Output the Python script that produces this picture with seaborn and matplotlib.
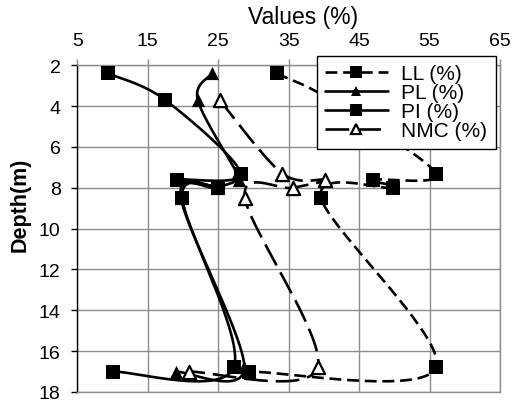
import numpy as np
import pandas as pd
import seaborn as sns
import matplotlib
matplotlib.use("Agg")
import matplotlib.pyplot as plt
from matplotlib.lines import Line2D

# ---- data ----
depth = [2.4, 3.7, 7.3, 7.6, 8.0, 8.5, 16.8, 17.0]
ll = [33.3, 41.0, 55.9, 47.0, 49.8, 39.6, 55.9, 29.4]
pl = [24.1, 22.1, 27.7, 27.9, 24.8, 19.7, 28.7, 19.0]
pi = [9.4, 17.5, 28.2, 19.1, 25.0, 19.9, 27.2, 10.1]
nmc_depth = [3.7, 7.3, 7.6, 8.0, 8.5, 16.8, 17.0]
nmc = [25.2, 34.1, 40.1, 35.6, 28.8, 39.1, 20.9]

x_ticks = [5, 15, 25, 35, 45, 55, 65]
y_ticks = [2, 4, 6, 8, 10, 12, 14, 16, 18]
labels = ["LL (%)", "PL (%)", "PI (%)", "NMC (%)"]


def smooth(xs, ys, n=40):
    """Excel-like smoothed line: Catmull-Rom Bezier through the points."""
    p = np.column_stack([xs, ys]).astype(float)
    m = len(p)
    out = []
    for i in range(m - 1):
        p0 = p[i - 1] if i > 0 else p[i]
        p1, p2 = p[i], p[i + 1]
        p3 = p[i + 2] if i + 2 < m else p[i + 1]
        c1 = p1 + (p2 - p0) / 6.0
        c2 = p2 - (p3 - p1) / 6.0
        t = np.linspace(0, 1, n)[:, None]
        seg = ((1 - t) ** 3) * p1 + 3 * ((1 - t) ** 2) * t * c1 + 3 * (1 - t) * t ** 2 * c2 + t ** 3 * p2
        out.append(seg if i == 0 else seg[1:])
    a = np.vstack(out)
    return pd.DataFrame({"x": a[:, 0], "y": a[:, 1]})


sns.set_style("white")
plt.rcParams["font.family"] = ["Liberation Sans", "DejaVu Sans"]
plt.rcParams["text.color"] = "black"
plt.rcParams["axes.labelcolor"] = "black"
plt.rcParams["xtick.color"] = "black"
plt.rcParams["ytick.color"] = "black"

fig = plt.figure(figsize=(5.22, 4.02), dpi=100)
ax = fig.add_axes([0.148, 0.0224, 0.81, 0.8126])

lw = 1.9
series = [
    (ll, depth, (0, (4.5, 2.2)), "s", "black"),
    (pl, depth, "-", "^", "black"),
    (pi, depth, "-", "s", "black"),
    (nmc, nmc_depth, (0, (9, 3)), "^", "white"),
]
handles = []
for (vals, dep, ls, mk, fc), lab in zip(series, labels):
    sm = smooth(vals, dep)
    sns.lineplot(data=sm, x="x", y="y", sort=False, estimator=None, ax=ax,
                 color="black", linewidth=lw, linestyle=ls, zorder=3)
    pts = pd.DataFrame({"x": vals, "y": dep})
    ms = 115 if mk == "s" else 90
    sns.scatterplot(data=pts, x="x", y="y", marker=mk, s=ms, color=fc,
                    edgecolor="black", linewidth=1.6 if fc == "white" else 0,
                    ax=ax, zorder=4)
    handles.append(Line2D([0], [0], color="black", linewidth=lw, linestyle=ls,
                          marker=mk, markersize=8 if mk == "s" else 7.5,
                          markerfacecolor=fc, markeredgecolor="black",
                          markeredgewidth=1.6 if fc == "white" else 0))

ax.set_xlim(5, 65)
ax.set_ylim(18, 2)
ax.set_xticks(x_ticks)
ax.set_yticks(y_ticks)
ax.xaxis.tick_top()
ax.xaxis.set_label_position("top")
ax.grid(True, color="#8c8c8c", linewidth=1.0)
ax.set_axisbelow(True)
for s in ["top", "right", "bottom"]:
    ax.spines[s].set_color("#8c8c8c")
    ax.spines[s].set_linewidth(1.0)
ax.spines["left"].set_color("black")
ax.spines["left"].set_linewidth(1.0)
ax.tick_params(axis="x", which="major", top=True, bottom=False, direction="out",
               length=4, width=1, color="#8c8c8c", labelsize=14, pad=8,
               labelcolor="black")
ax.tick_params(axis="y", which="major", left=True, direction="out",
               length=4, width=1, color="black", labelsize=14, pad=8,
               labelcolor="black")

ax.set_xlabel("Values (%)", fontsize=16.5, color="black")
ax.xaxis.set_label_coords(0.535, 1.15)
ax.xaxis.label.set_va("center")
ax.set_ylabel("Depth(m)", fontsize=15.5, fontweight="bold", color="black")
ax.yaxis.set_label_coords(-0.134, 0.575)
ax.yaxis.label.set_va("center")

leg = ax.legend(handles, labels, loc="upper left", bbox_to_anchor=(0.607, 0.858),
                bbox_transform=fig.transFigure, frameon=True, fancybox=False,
                framealpha=1, facecolor="white",
                edgecolor="black", fontsize=15, handlelength=3.0,
                handletextpad=0.65, labelspacing=0.0, borderpad=0.4,
                borderaxespad=0)
leg.get_frame().set_linewidth(1.0)
leg.set_zorder(10)
for t in leg.get_texts():
    t.set_color("black")

fig.savefig("out.png", dpi=100)
